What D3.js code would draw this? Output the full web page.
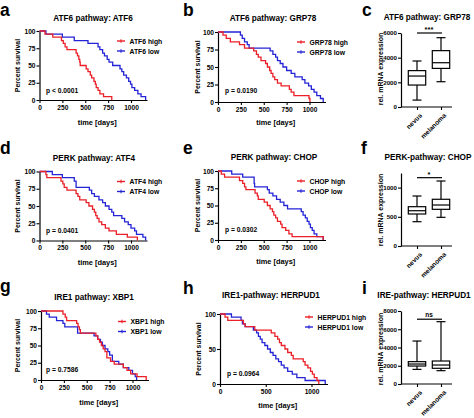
<!DOCTYPE html>
<html>
<head>
<meta charset="utf-8">
<script src="https://cdn.jsdelivr.net/npm/d3@7"></script>
<style>
  html, body { margin: 0; padding: 0; background: #fff; }
  svg { display: block; font-family: "Liberation Sans", Arial, sans-serif; font-weight: bold; }
</style>
</head>
<body>
<svg id="chart" width="474" height="418"></svg>
<script>
// ---------------- DATA ----------------
const kmXTicks = [0, 250, 500, 750, 1000];
const kmYTicks = [0, 25, 50, 75, 100];
const kmXTicksWide = [0, 500, 1000];
const kmYTicksWide = [0, 50, 100];
const groupNames = ["high", "low"];

// Kaplan-Meier steps: [time (days), percent survival]
const atf6High = [[0,100],[60,95.5],[145,91],[240,86],[260,82],[280,77],[300,73],[400,68],[415,64],[430,59],[440,55],[445,50],[510,45],[530,41],[555,36],[570,32],[595,27],[610,23],[620,18],[640,14],[660,9],[700,5],[790,0]];
const atf6Low  = [[0,100],[70,95.5],[250,91],[380,86],[530,82],[640,77],[660,73],[690,68],[710,64],[740,59],[760,55],[800,50],[880,45],[900,41],[920,36],[950,32],[975,27],[995,23],[1010,18],[1040,14],[1075,9],[1110,5],[1160,0]];

const grp78High = [[0,100],[55,95.5],[90,91],[135,86],[235,82],[290,77],[390,73],[420,68],[440,64],[470,59],[520,55],[540,50],[565,45],[580,41],[600,36],[620,32],[650,27],[690,23],[780,18],[800,14],[830,9],[995,5],[1005,0]];
const grp78Low  = [[0,100],[245,95.5],[265,91],[290,86],[320,82],[340,77],[570,73],[600,68],[630,64],[650,59],[680,55],[710,50],[750,45],[800,41],[840,36],[920,32],[950,27],[990,23],[1020,18],[1050,14],[1080,9],[1120,5],[1150,0]];

const atf4High = [[0,100],[70,95.5],[80,91],[235,86],[255,82],[270,77],[300,73],[400,68],[420,64],[440,59],[510,55],[540,50],[580,45],[600,41],[615,36],[630,32],[650,27],[680,23],[720,18],[760,14],[840,9],[960,5],[1070,0]];
const atf4Low  = [[0,100],[140,95.5],[250,91],[380,86],[400,77],[545,73],[570,68],[600,64],[650,59],[690,55],[720,50],[760,45],[790,41],[810,36],[900,32],[930,27],[970,23],[1000,18],[1040,14],[1060,9],[1130,5],[1160,0]];

const chopHigh = [[0,100],[36,95.5],[72,91],[235,86],[270,82],[290,77],[305,73],[405,68],[430,64],[440,59],[505,55],[540,50],[570,45],[595,41],[610,36],[630,32],[650,27],[685,23],[700,18],[740,14],[775,9],[810,5],[1150,0]];
const chopLow  = [[0,100],[150,95.5],[270,91],[395,82],[400,77],[540,73],[560,68],[600,64],[640,59],[680,55],[720,50],[760,45],[910,41],[930,36],[955,32],[975,27],[995,23],[1010,18],[1030,14],[1050,9],[1080,5],[1150,0]];

const xbp1High = [[0,100],[240,95.5],[265,91],[280,86],[390,82],[405,77],[420,73],[430,68],[600,64],[620,59],[640,55],[660,50],[680,45],[700,41],[720,32],[760,27],[800,23],[900,18],[940,14],[980,9],[1050,5],[1150,0]];
const xbp1Low  = [[0,100],[60,95.5],[90,91],[170,86],[240,82],[260,77],[400,68],[580,64],[620,59],[650,55],[670,50],[700,45],[730,41],[750,36],[780,27],[850,23],[900,18],[960,14],[1000,9],[1030,5],[1045,0]];

const herpud1High = [[0,100],[55,95.5],[85,91],[255,86],[275,82],[380,77],[560,73],[600,68],[630,64],[650,59],[670,55],[710,50],[740,45],[780,41],[800,36],[910,32],[930,27],[960,23],[990,18],[1010,14],[1030,9],[1060,5],[1080,0]];
const herpud1Low  = [[0,100],[125,95.5],[230,91],[245,86],[275,82],[365,77],[400,73],[420,68],[440,64],[460,59],[490,55],[520,50],[550,45],[580,41],[610,36],[640,32],[670,27],[700,23],[740,18],[790,14],[840,9],[930,5],[1150,0]];

// Box plots: [min, Q1, median, Q3, max]
const boxCategories = ["nevus", "melanoma"];
const grp78Box = [[560, 1780, 2510, 2950, 3730], [2050, 3130, 3590, 4570, 5620]];
const chopBox = [[416, 548, 604, 673, 856], [491, 628, 702, 800, 1113]];
const herpudBox = [[1600, 1970, 2190, 2450, 4710], [1460, 1720, 2080, 2520, 6830]];
const grp78Ticks = [0, 2000, 4000, 6000];
const chopTicks = [0, 500, 1000];
const herpudTicks = [0, 2000, 4000, 6000, 8000];

// ---------------- DRAW ----------------
const RED = "#ea1f27", BLUE = "#2424d6";
const fmt = d3.format("d");
const svg = d3.select("#chart");
svg.append("rect").attr("width", 474).attr("height", 418).attr("fill", "#fff");

function styleAxis(g, fs) {
  g.selectAll("path.domain").attr("stroke", "#000").attr("stroke-width", 1.2);
  g.selectAll(".tick line").attr("stroke", "#000").attr("stroke-width", 1.1);
  g.selectAll(".tick text").attr("fill", "#000").attr("font-size", fs).attr("font-weight", "bold")
    .attr("font-family", "Liberation Sans, Arial, sans-serif");
}

function letter(ch, x, y) {
  svg.append("text").attr("x", x).attr("y", y).attr("font-size", 17.5).attr("font-weight", "bold").text(ch);
}
function title(t, x, y) {
  svg.append("text").attr("x", x).attr("y", y).attr("text-anchor", "middle").attr("font-size", 8.2).text(t);
}
function ylabel(t, x, y, fs) {
  svg.append("text").attr("transform", `translate(${x},${y}) rotate(-90)`).attr("text-anchor", "middle")
    .attr("font-size", fs).text(t);
}

const kmPanels = [
  {L:"a", T:"ATF6 pathway: ATF6", gene:"ATF6", hi:atf6High, lo:atf6Low, p:"p < 0.0001", x0:39.5, y100:31, y0:100, xt:kmXTicks, yt:kmYTicks, lx:0, ly:16, titleX:93, titleY:21, xlabY:125, ylabX:19.5, legX:117, legY:41, pX:46, pY:93},
  {L:"b", T:"ATF6 pathway: GRP78", gene:"GRP78", hi:grp78High, lo:grp78Low, p:"p = 0.0190", x0:218, y100:32, y0:102, xt:kmXTicks, yt:kmYTicks, lx:183, ly:16, titleX:273, titleY:21, xlabY:125, ylabX:200, legX:297, legY:42, pX:225, pY:93},
  {L:"d", T:"PERK pathway: ATF4", gene:"ATF4", hi:atf4High, lo:atf4Low, p:"p = 0.0401", x0:39.5, y100:171.5, y0:240.5, xt:kmXTicks, yt:kmYTicks, lx:0, ly:154, titleX:94, titleY:161, xlabY:265, ylabX:19.5, legX:117, legY:181.5, pX:46, pY:233},
  {L:"e", T:"PERK pathway: CHOP", gene:"CHOP", hi:chopHigh, lo:chopLow, p:"p = 0.0302", x0:218, y100:171, y0:240, xt:kmXTicks, yt:kmYTicks, lx:183, ly:154, titleX:274, titleY:160, xlabY:264, ylabX:200, legX:297, legY:181, pX:225, pY:232},
  {L:"g", T:"IRE1 pathway: XBP1", gene:"XBP1", hi:xbp1High, lo:xbp1Low, p:"p = 0.7586", x0:41, y100:311, y0:380, xt:kmXTicks, yt:kmYTicks, lx:0, ly:292, titleX:94, titleY:300, xlabY:405, ylabX:19.5, legX:118, legY:321.5, pX:46, pY:372},
  {L:"h", T:"IRE1-pathway: HERPUD1", gene:"HERPUD1", hi:herpud1High, lo:herpud1Low, p:"p = 0.0964", x0:220, y100:314, y0:384, xt:kmXTicksWide, yt:kmYTicksWide, lx:183, ly:294, titleX:271, titleY:298, xlabY:408, ylabX:201, legX:305, legY:317, pX:227, pY:376}
];

kmPanels.forEach(P => {
  const x = d3.scaleLinear().domain([0, 1175]).range([P.x0, P.x0 + 107.5]);
  const y = d3.scaleLinear().domain([0, 100]).range([P.y0, P.y100]);
  letter(P.L, P.lx, P.ly);
  title(P.T, P.titleX, P.titleY);

  const gx = svg.append("g").attr("transform", `translate(0,${P.y0})`)
    .call(d3.axisBottom(x).tickValues(P.xt).tickFormat(fmt).tickSize(3).tickPadding(2).tickSizeOuter(0));
  styleAxis(gx, 6.6);
  const gy = svg.append("g").attr("transform", `translate(${P.x0},0)`)
    .call(d3.axisLeft(y).tickValues(P.yt).tickFormat(fmt).tickSize(3).tickPadding(1).tickSizeOuter(0));
  styleAxis(gy, 6.6);

  svg.append("text").attr("x", (P.x0 + P.x0 + 107.5) / 2 + 4).attr("y", P.xlabY).attr("text-anchor", "middle")
    .attr("font-size", 7.4).text("time [days]");
  ylabel("Percent survival", P.ylabX, (P.y0 + P.y100) / 2, 6.9);

  const line = d3.line().x(d => x(d[0])).y(d => y(d[1])).curve(d3.curveStepAfter);
  [[P.lo, BLUE], [P.hi, RED]].forEach(([d, c]) => {
    svg.append("path").datum(d).attr("d", line).attr("fill", "none").attr("stroke", c).attr("stroke-width", 1.3);
  });

  // legend
  [[groupNames[0], RED, 0], [groupNames[1], BLUE, 10]].forEach(([nm, c, dy]) => {
    const ly = P.legY + dy;
    svg.append("line").attr("x1", P.legX).attr("x2", P.legX + 8).attr("y1", ly).attr("y2", ly)
      .attr("stroke", c).attr("stroke-width", 1.4);
    svg.append("line").attr("x1", P.legX + 4).attr("x2", P.legX + 4).attr("y1", ly - 1.8).attr("y2", ly + 1.8)
      .attr("stroke", c).attr("stroke-width", 1);
    svg.append("text").attr("x", P.legX + 12.5).attr("y", ly + 2.5).attr("font-size", 6.8).text(`${P.gene} ${nm}`);
  });
  svg.append("text").attr("x", P.pX).attr("y", P.pY).attr("font-size", 6.7).text(P.p);
});

const boxPanels = [
  {L:"c", T:"ATF6 pathway: GRP78", data:grp78Box, ticks:grp78Ticks, top:6000, y0:107, yTop:33, lx:362, ly:16, titleX:427, titleY:20, ylabY:69, sig:"***", sigV:6000, sigDy:-1.5},
  {L:"f", T:"PERK-pathway: CHOP", data:chopBox, ticks:chopTicks, top:1250, y0:246, yTop:173, lx:361, ly:153.5, titleX:428, titleY:160, ylabY:210, sig:"*", sigV:1170, sigDy:-1},
  {L:"i", T:"IRE-pathway: HERPUD1", data:herpudBox, ticks:herpudTicks, top:8000, y0:384, yTop:311, lx:362, ly:294, titleX:424, titleY:298, ylabY:349, sig:"ns", sigV:7100, sigDy:-2.5}
];

boxPanels.forEach(P => {
  const AX0 = 401, AX1 = 452;
  const y = d3.scaleLinear().domain([0, P.top]).range([P.y0, P.yTop]);
  const xc = d3.scalePoint().domain(boxCategories).range([417, 441]);
  letter(P.L, P.lx, P.ly);
  title(P.T, P.titleX, P.titleY);

  const gy = svg.append("g").attr("transform", `translate(${AX0},0)`)
    .call(d3.axisLeft(y).tickValues(P.ticks).tickFormat(fmt).tickSize(3).tickPadding(1).tickSizeOuter(0));
  styleAxis(gy, 6.2);
  const gx = svg.append("g").attr("transform", `translate(0,${P.y0})`)
    .call(d3.axisBottom(xc).tickSize(3).tickSizeOuter(0));
  gx.select("path.domain").attr("d", `M${AX0},0H${AX1}`);
  styleAxis(gx, 6.6);
  gx.selectAll(".tick text").attr("text-anchor", "end").attr("dy", null).attr("y", 0)
    .attr("transform", "translate(5,9) rotate(-45)");

  ylabel("rel. mRNA expression", 383, P.ylabY, 7);

  const bw = 17.4, cw = 9;
  P.data.forEach((d, i) => {
    const cx = xc(boxCategories[i]);
    const g = svg.append("g").attr("stroke", "#000").attr("stroke-width", 1.2).attr("fill", "none");
    g.append("line").attr("x1", cx).attr("x2", cx).attr("y1", y(d[0])).attr("y2", y(d[1]));
    g.append("line").attr("x1", cx).attr("x2", cx).attr("y1", y(d[3])).attr("y2", y(d[4]));
    g.append("line").attr("x1", cx - cw / 2).attr("x2", cx + cw / 2).attr("y1", y(d[0])).attr("y2", y(d[0]));
    g.append("line").attr("x1", cx - cw / 2).attr("x2", cx + cw / 2).attr("y1", y(d[4])).attr("y2", y(d[4]));
    g.append("rect").attr("x", cx - bw / 2).attr("width", bw).attr("y", y(d[3])).attr("height", y(d[1]) - y(d[3]))
      .attr("fill", "#fff");
    g.append("line").attr("x1", cx - bw / 2).attr("x2", cx + bw / 2).attr("y1", y(d[2])).attr("y2", y(d[2]));
  });
  const sy = y(P.sigV);
  svg.append("line").attr("x1", xc(boxCategories[0])).attr("x2", xc(boxCategories[1]) + 1).attr("y1", sy).attr("y2", sy)
    .attr("stroke", "#000").attr("stroke-width", 1.2);
  svg.append("text").attr("x", (xc(boxCategories[0]) + xc(boxCategories[1])) / 2).attr("y", sy + P.sigDy)
    .attr("text-anchor", "middle").attr("font-size", P.sig === "ns" ? 6.5 : 7.5).text(P.sig);
});
</script>
</body>
</html>
